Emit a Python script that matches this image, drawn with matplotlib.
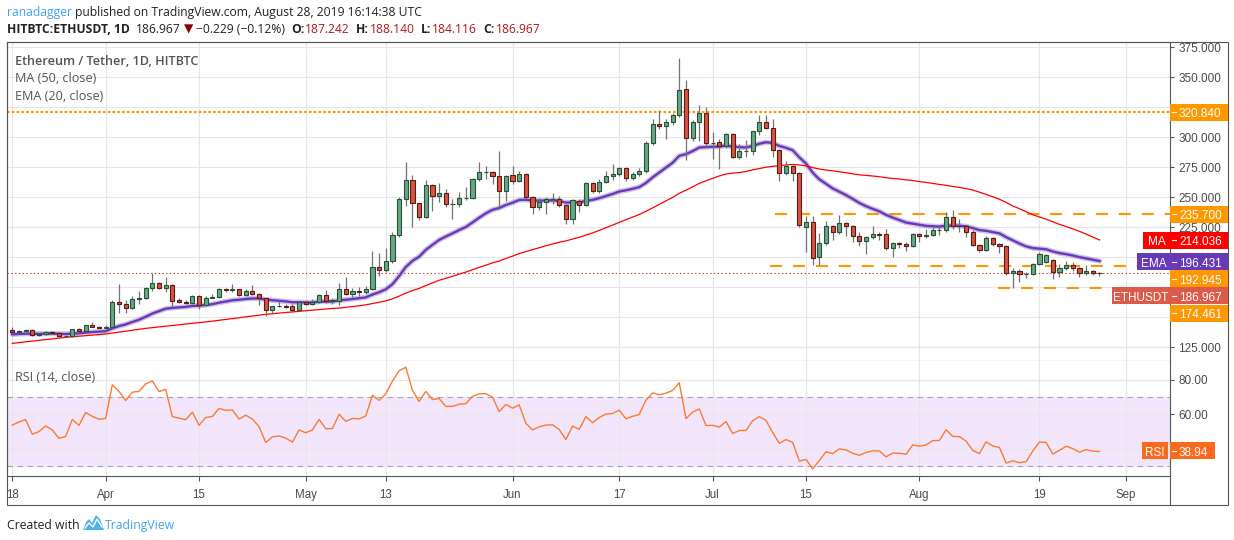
"""ETH/USDT daily candles (HitBTC) with MA50, EMA20 and RSI14, TradingView-style snapshot."""
import numpy as np
import matplotlib

matplotlib.use("Agg")
import matplotlib.pyplot as plt
from matplotlib.patches import Rectangle, Polygon
from matplotlib.lines import Line2D
from matplotlib.transforms import IdentityTransform

# ---------------------------------------------------------------------------
# data: one candle per day, day 0 = 2019-03-18, last candle = 2019-08-28
# ---------------------------------------------------------------------------
opens = [
    139.4, 137.6, 138.6, 139.4, 135.3, 136.1, 137.8, 136.7, 134.2, 134.7,
    140.0, 138.3, 143.3, 142.2, 141.4, 141.7, 163.0, 160.8, 157.5, 165.0,
    165.8, 174.2, 178.3, 174.2, 176.7, 164.2, 163.0, 162.2, 167.8, 160.5,
    166.4, 167.2, 174.0, 173.0, 173.4, 168.8, 171.6, 169.7, 165.8, 155.8,
    159.1, 159.6, 159.1, 155.8, 162.4, 160.8, 162.4, 168.8, 163.8, 163.9,
    173.3, 169.6, 171.6, 171.4, 173.3, 191.6, 189.1, 196.6, 218.3, 248.5,
    264.1, 244.9, 234.0, 259.9, 250.7, 253.2, 244.3, 244.6, 249.0, 249.6,
    264.9, 270.7, 270.9, 268.0, 254.9, 268.2, 263.8, 269.3, 249.9, 241.6,
    245.7, 248.2, 248.5, 243.5, 231.6, 246.6, 244.0, 261.8, 254.9, 262.7,
    268.0, 269.0, 274.0, 265.7, 269.0, 271.5, 294.9, 310.7, 309.0, 312.6,
    318.5, 339.9, 299.0, 312.6, 320.1, 294.9, 296.0, 292.4, 302.4, 283.2,
    288.2, 288.4, 304.9, 312.4, 307.4, 289.6, 269.9, 275.7, 270.5, 225.5,
    229.1, 200.0, 211.6, 225.8, 220.8, 228.3, 225.8, 218.0, 213.3, 216.9,
    219.1, 219.1, 207.4, 212.1, 211.3, 209.6, 219.1, 217.4, 218.5, 222.7,
    222.9, 233.8, 226.3, 226.1, 221.3, 210.5, 206.3, 216.3, 211.3, 209.6,
    187.1, 189.0, 185.7, 186.5, 194.6, 196.5, 197.4, 187.6, 190.7, 194.0,
    191.3, 187.1, 189.0, 187.242,
]
highs = [
    141.6, 139.2, 140.2, 140.2, 136.6, 139.0, 138.2, 137.5, 135.4, 140.5,
    140.8, 143.8, 146.1, 143.0, 143.3, 164.5, 177.8, 164.4, 167.8, 171.9,
    175.0, 186.7, 179.1, 183.6, 177.5, 165.8, 164.2, 168.5, 168.8, 167.5,
    169.4, 174.6, 174.8, 177.7, 174.0, 173.5, 176.9, 170.5, 166.5, 159.8,
    163.8, 161.0, 161.0, 163.0, 163.5, 165.2, 169.5, 172.7, 165.8, 178.3,
    183.5, 174.1, 175.2, 176.3, 205.2, 203.5, 207.7, 221.0, 250.0, 279.6,
    268.5, 245.5, 264.1, 261.0, 261.8, 256.8, 248.5, 254.0, 258.2, 266.0,
    279.0, 275.7, 272.0, 288.5, 268.5, 275.7, 271.8, 270.5, 250.8, 249.0,
    249.9, 253.5, 251.3, 244.5, 248.5, 248.5, 262.5, 263.0, 265.2, 272.0,
    277.6, 275.0, 275.0, 270.7, 274.3, 296.8, 315.4, 322.6, 315.4, 319.9,
    366.0, 347.6, 314.6, 327.1, 324.9, 304.3, 298.8, 303.5, 303.5, 294.3,
    297.6, 305.5, 318.7, 318.7, 315.4, 290.5, 279.9, 276.5, 271.3, 234.6,
    234.6, 220.2, 230.5, 227.0, 235.2, 229.6, 226.8, 220.8, 218.0, 226.3,
    221.3, 223.5, 212.5, 213.0, 212.5, 220.0, 220.0, 223.5, 224.9, 224.9,
    237.4, 239.4, 231.9, 227.0, 222.5, 211.5, 217.4, 217.0, 212.0, 210.5,
    191.3, 190.0, 187.5, 195.2, 204.3, 203.0, 198.5, 194.6, 196.8, 196.0,
    192.0, 194.0, 189.6, 188.140,
]
lows = [
    137.0, 137.0, 137.6, 134.5, 134.6, 135.6, 136.2, 133.1, 133.4, 134.0,
    137.8, 138.0, 141.8, 141.0, 140.5, 141.2, 153.3, 153.9, 157.0, 160.8,
    165.0, 171.6, 173.6, 171.1, 158.9, 161.7, 161.5, 161.8, 156.7, 159.5,
    165.8, 166.0, 170.7, 171.3, 167.9, 167.9, 169.0, 160.2, 151.3, 152.7,
    158.3, 157.8, 154.1, 155.0, 160.0, 160.2, 161.8, 161.6, 161.0, 160.5,
    169.0, 166.6, 168.0, 169.4, 172.5, 184.1, 187.4, 195.5, 217.0, 243.0,
    224.9, 231.3, 232.9, 238.8, 245.7, 241.6, 231.8, 242.1, 247.5, 248.5,
    263.8, 265.2, 261.0, 241.6, 246.6, 260.7, 262.5, 248.5, 235.7, 239.6,
    236.0, 244.3, 241.6, 227.7, 227.7, 237.4, 243.0, 253.5, 253.8, 261.5,
    264.6, 267.5, 263.2, 264.5, 267.4, 270.5, 293.2, 307.1, 298.8, 310.5,
    316.5, 281.3, 296.5, 296.5, 291.5, 282.1, 273.7, 291.0, 282.6, 282.0,
    283.2, 284.9, 302.1, 306.5, 283.2, 263.7, 268.8, 263.7, 224.9, 204.6,
    193.5, 193.5, 210.5, 214.6, 219.8, 218.0, 212.4, 209.6, 202.7, 215.5,
    214.6, 206.5, 199.9, 207.4, 205.5, 208.8, 212.4, 216.5, 217.5, 218.5,
    221.5, 223.5, 221.3, 216.6, 209.5, 204.1, 205.5, 209.3, 203.8, 184.9,
    174.6, 179.3, 182.9, 184.9, 193.5, 195.5, 182.1, 183.8, 189.3, 189.0,
    183.8, 184.9, 185.6, 184.116,
]
closes = [
    137.6, 138.6, 139.4, 135.3, 136.1, 137.8, 136.7, 134.2, 134.7, 140.0,
    138.3, 143.3, 142.2, 141.4, 141.7, 163.0, 160.8, 157.5, 165.0, 165.8,
    174.2, 178.3, 174.2, 176.7, 163.9, 163.0, 162.2, 167.8, 160.5, 166.4,
    167.2, 174.0, 173.0, 173.4, 168.8, 171.6, 169.7, 165.8, 155.8, 159.1,
    159.6, 158.3, 155.8, 162.4, 160.8, 162.4, 168.8, 163.8, 163.9, 173.3,
    169.6, 171.6, 171.4, 173.3, 191.6, 189.1, 196.6, 218.3, 248.5, 264.1,
    244.9, 234.0, 259.9, 250.7, 253.2, 244.3, 244.6, 249.0, 249.6, 264.9,
    270.7, 270.9, 268.0, 254.9, 267.4, 263.8, 269.3, 249.9, 241.6, 245.7,
    248.2, 248.5, 243.5, 231.6, 247.7, 244.0, 261.8, 254.9, 262.7, 268.0,
    269.0, 274.0, 265.7, 269.0, 271.5, 294.9, 310.7, 309.0, 312.6, 318.5,
    339.3, 299.0, 312.6, 320.1, 294.9, 295.2, 292.4, 302.4, 283.2, 288.2,
    288.4, 304.9, 312.4, 307.4, 289.6, 269.9, 275.7, 270.5, 226.6, 229.1,
    199.1, 211.6, 225.8, 220.8, 228.3, 225.8, 218.0, 213.3, 216.9, 219.1,
    218.9, 207.4, 211.6, 211.3, 209.6, 219.1, 217.4, 218.5, 222.7, 222.9,
    233.3, 226.3, 226.1, 221.3, 210.5, 206.3, 216.3, 211.3, 209.6, 187.1,
    189.0, 185.7, 186.5, 194.6, 202.4, 201.8, 187.6, 190.7, 194.0, 191.3,
    187.1, 189.0, 187.2, 186.967,
]

tick_days = [0, 14, 28, 44, 56, 75, 91, 105, 119, 136, 154, 167]
tick_labels = ["18", "Apr", "15", "May", "13", "Jun", "17", "Jul", "15", "Aug", "19", "Sep"]

# price scale labels; the empty ones sit under the coloured tags
price_ticks = [125, 150, 175, 200, 225, 250, 275, 300, 325, 350, 375]
price_tick_labels = ["125.000", "", "", "", "225.000", "250.000", "275.000",
                     "300.000", "", "350.000", "375.000"]
rsi_ticks = [40, 60, 80]
rsi_tick_labels = ["", "60.00", "80.00"]

ma50_head_days = [0, 8, 14, 20, 30, 38, 43, 48]
ma50_head = [128.3, 133.3, 136.1, 140.8, 146.8, 152.5, 155.0, 157.4]
ema20_start = 135.8
rsi_seed_gain, rsi_seed_loss = 1.05, 0.90

resistance = 320.840
range_top = 235.700
range_bottom = 192.945
support = 174.461
last_close = 186.967
ma_last = 214.036
ema_last = 196.431
rsi_last = 38.94

# ---------------------------------------------------------------------------
# indicators
# ---------------------------------------------------------------------------
o = np.array(opens)
h = np.array(highs)
l = np.array(lows)
c = np.array(closes)
n = len(c)
days = np.arange(n)

ema = np.empty(n)
ema[0] = ema20_start
k = 2.0 / 21.0
for i in range(1, n):
    ema[i] = ema[i - 1] + k * (c[i] - ema[i - 1])

ma_days = list(ma50_head_days) + list(range(49, n))
ma_vals = list(ma50_head) + [c[i - 49:i + 1].mean() for i in range(49, n)]

rsi = np.empty(n)
ag, al = rsi_seed_gain, rsi_seed_loss
rsi[0] = 100 - 100 / (1 + ag / al)
for i in range(1, n):
    d = c[i] - c[i - 1]
    ag = (ag * 13 + max(d, 0.0)) / 14
    al = (al * 13 + max(-d, 0.0)) / 14
    rsi[i] = 100 - 100 / (1 + ag / al)

# ---------------------------------------------------------------------------
# layout (pixel boxes of the snapshot)
# ---------------------------------------------------------------------------
W, H = 1234, 540
fig = plt.figure(figsize=(W / 100, H / 100), dpi=100, facecolor="white")


def fx(x):
    return x / W


def fy(y):
    return 1 - y / H


L_X, R_X = 7, 1170
ax = fig.add_axes([fx(L_X), fy(361), fx(R_X) - fx(L_X), fy(42) - fy(361)])
rax = fig.add_axes([fx(L_X), fy(476), fx(R_X) - fx(L_X), fy(361) - fy(476)])

AXIS_FONT = ["Liberation Sans", "DejaVu Sans"]
TEXT_FONT = ["Open Sans", "DejaVu Sans"]
GRID = "#e6e6e6"
FRAME = "#555555"
ORANGE = "#ff9800"
x_lo, x_hi = -0.79, 173.57

# ---------------------------------------------------------------------------
# price panel
# ---------------------------------------------------------------------------
up = c >= o
body_lo = np.minimum(o, c)
body_h = np.maximum(np.abs(c - o), 0.35)
ax.vlines(days, l, h, color="#737375", lw=0.9, zorder=3)
ax.bar(days[up], body_h[up], bottom=body_lo[up], width=0.62,
       color="#6ba583", edgecolor="#225437", lw=0.8, zorder=4)
ax.bar(days[~up], body_h[~up], bottom=body_lo[~up], width=0.62,
       color="#d75442", edgecolor="#5b1a13", lw=0.8, zorder=4)

ax.plot(days, ema, color="#673ab7", lw=3.8, alpha=0.3, zorder=2.6,
        solid_capstyle="round")
ax.plot(days, ema, color="#673ab7", lw=1.7, zorder=2.7)
ax.plot(ma_days, ma_vals, color="#ff0000", lw=0.9, zorder=2.7)

ax.axhline(resistance, color=ORANGE, lw=1.5, ls=(0, (1.3, 1.0)), zorder=2)
dash = (0, (5.8, 5.2))
ax.hlines(range_top, 114.3, x_hi, color=ORANGE, lw=1.5, ls=dash, zorder=2)
ax.hlines(range_bottom, 113.6, x_hi, color=ORANGE, lw=1.5, ls=dash, zorder=2)
ax.hlines(support, 147.8, x_hi, color=ORANGE, lw=1.5, ls=dash, zorder=2)
ax.axhline(last_close, color="#c0392b", lw=0.8, ls=(0, (1.2, 2.2)), zorder=2)

ax.set_xlim(x_lo, x_hi)
ax.set_ylim(113.6, 379.4)
ax.set_xticks(tick_days)
ax.set_yticks(price_ticks)
ax.set_yticklabels(price_tick_labels)
ax.yaxis.tick_right()
ax.tick_params(axis="x", length=0, labelbottom=False)
ax.tick_params(axis="y", length=3, width=0.8, color=FRAME, pad=3,
               labelsize=8.5, labelcolor="#4a4a4a")
for lab in ax.get_yticklabels():
    lab.set_family(AXIS_FONT)
ax.grid(True, color=GRID, lw=0.8)
ax.set_axisbelow(True)

# ---------------------------------------------------------------------------
# RSI panel
# ---------------------------------------------------------------------------
rax.axhspan(30, 70, color="#f3e6fc", zorder=0)
for lvl in (30, 70):
    rax.axhline(lvl, color="#a8a8a8", lw=0.8, ls=(0, (5, 4)), zorder=1)
rax.plot(days, rsi, color="#ff7a2f", lw=1.0, zorder=3)
rax.set_xlim(x_lo, x_hi)
rax.set_ylim(24.3, 91)
rax.set_yticks(rsi_ticks)
rax.set_yticklabels(rsi_tick_labels)
rax.yaxis.tick_right()
rax.set_xticks(tick_days)
rax.set_xticklabels(tick_labels)
rax.tick_params(axis="y", length=3, width=0.8, color=FRAME, pad=3,
                labelsize=8.5, labelcolor="#4a4a4a")
rax.tick_params(axis="x", length=3.5, width=0.8, color=FRAME, pad=6,
                labelsize=8.3, labelcolor="#4a4a4a")
for lab in rax.get_yticklabels() + rax.get_xticklabels():
    lab.set_family(AXIS_FONT)
rax.grid(True, color=GRID, lw=0.8)
rax.set_axisbelow(True)

for a in (ax, rax):
    for side in ("left", "top", "right", "bottom"):
        a.spines[side].set_color(FRAME)
        a.spines[side].set_linewidth(0.8)
rax.spines["top"].set_visible(False)

# outer frame incl. time axis strip
pix = IdentityTransform()
fig.add_artist(Rectangle((L_X, H - 505), 1228 - L_X, 505 - 42, transform=pix,
                         fill=False, edgecolor=FRAME, lw=0.8, zorder=1))
fig.add_artist(Line2D([R_X, R_X], [H - 505, H - 476], transform=pix,
                      color=FRAME, lw=0.8, zorder=1))

# ---------------------------------------------------------------------------
# right-hand price tags
# ---------------------------------------------------------------------------


def disp_y(a, v):
    return a.transData.transform((0, v))[1]


def tag(x0, x1, yc, text, color, centre=False, tick=False, h_px=17):
    fig.add_artist(Rectangle((x0, yc - h_px / 2), x1 - x0, h_px, transform=pix,
                             facecolor=color, edgecolor="none", zorder=5))
    tx = (x0 + x1) / 2 if centre else x0 + 9
    fig.text(tx, yc - 0.5, text, transform=pix, color="white", fontsize=8.5,
             family=AXIS_FONT, ha="center" if centre else "left",
             va="center_baseline", zorder=6)
    if tick:
        fig.add_artist(Line2D([x0 + 1.5, x0 + 5.5], [yc, yc], transform=pix,
                              color="white", lw=0.8, zorder=6))


VX0, VX1 = 1170, 1228
tag(VX0, VX1, disp_y(ax, resistance), f"{resistance:.3f}", ORANGE, tick=True)
tag(VX0, VX1, disp_y(ax, range_top), f"{range_top:.3f}", ORANGE, tick=True)
y_ma = disp_y(ax, ma_last)
tag(1143, VX0, y_ma, "MA", "#ff0000", centre=True)
tag(VX0, VX1, y_ma, f"{ma_last:.3f}", "#ff0000", tick=True)
y_ema = disp_y(ax, ema_last)
tag(1137, VX0, y_ema, "EMA", "#673ab7", centre=True)
tag(VX0, VX1, y_ema, f"{ema_last:.3f}", "#673ab7", tick=True)
# the next three are pushed down by the tag above them
step = 17.2
tag(VX0, VX1, y_ema - step, f"{range_bottom:.3f}", ORANGE, tick=True)
tag(1112, VX0, y_ema - 2 * step, "ETHUSDT", "#dc5a4a", centre=True)
tag(VX0, VX1, y_ema - 2 * step, f"{last_close:.3f}", "#dc5a4a", tick=True)
tag(VX0, VX1, y_ema - 3 * step, f"{support:.3f}", ORANGE, tick=True)

y_rsi = disp_y(rax, rsi_last)
tag(1142, 1168, y_rsi, "RSI", "#f96a1f", centre=True)
tag(VX0, 1215, y_rsi, f"{rsi_last:.2f}", "#f96a1f", tick=True)

# ---------------------------------------------------------------------------
# texts
# ---------------------------------------------------------------------------


def chain(pieces, x0, y_base, size):
    prev = None
    for text, gap, style in pieces:
        kw = dict(fontsize=size, family=TEXT_FONT, color="#222222",
                  ha="left", va="baseline", annotation_clip=False)
        kw.update(style)
        if prev is None:
            prev = ax.annotate(text, xy=(x0, H - y_base),
                               xycoords="figure pixels", **kw)
        else:
            prev = ax.annotate(text, xy=(1, H - y_base),
                               xycoords=(prev, "figure pixels"),
                               xytext=(gap, 0), textcoords="offset pixels", **kw)
    return prev


chain([("ranadagger", 0, {"color": "#3ea6ee"}),
       ("published on TradingView.com, August 28, 2019 16:14:38 UTC", 3, {})],
      7, 16, 8.75)

RED = "#b0181c"
B = {"weight": "bold"}
chain([("HITBTC:ETHUSDT, 1D", 0, B),
       ("186.967", 6, {}),
       ("\u25bc", 3, {"color": "#8b0000", "family": ["DejaVu Sans"]}),
       ("\u22120.229 (\u22120.12%)", 3, {}),
       ("O:", 6, B), ("187.242", 1, {"color": RED}),
       ("H:", 6, B), ("188.140", 1, {"color": RED}),
       ("L:", 6, B), ("184.116", 1, {"color": RED}),
       ("C:", 6, B), ("186.967", 1, {"color": RED})],
      7, 33, 8.7)

fig.text(fx(15), fy(65), "Ethereum / Tether, 1D, HITBTC", fontsize=9.1,
         family=TEXT_FONT, weight="semibold", color="#555555", va="baseline")
fig.text(fx(15), fy(82.5), "MA (50, close)", fontsize=9.1, family=TEXT_FONT,
         color="#555555", va="baseline")
fig.text(fx(15), fy(99.5), "EMA (20, close)", fontsize=9.1, family=TEXT_FONT,
         color="#555555", va="baseline")
fig.text(fx(15), fy(381), "RSI (14, close)", fontsize=9.1, family=TEXT_FONT,
         color="#555555", va="baseline")

# footer
fig.text(fx(7), fy(529), "Created with", fontsize=8.8, family=TEXT_FONT,
         color="#222222", va="baseline")
logo = [(83, 530), (86, 522), (89, 519), (92, 523), (96, 515), (100, 519),
        (104, 530)]
fig.add_artist(Polygon([(x, H - y) for x, y in logo], closed=True,
                       transform=pix, facecolor="#4fb3e8", edgecolor="none",
                       zorder=3))
fig.add_artist(Line2D([85, 89, 93, 97, 102], [H - 528, H - 523, H - 527,
                                               H - 519, H - 527],
                      transform=pix, color="white", lw=1.0, zorder=4))
fig.text(fx(105), fy(529), "TradingView", fontsize=8.8, family=TEXT_FONT,
         color="#3ea6ee", va="baseline")

fig.savefig("out.png", dpi=100, facecolor="white")
